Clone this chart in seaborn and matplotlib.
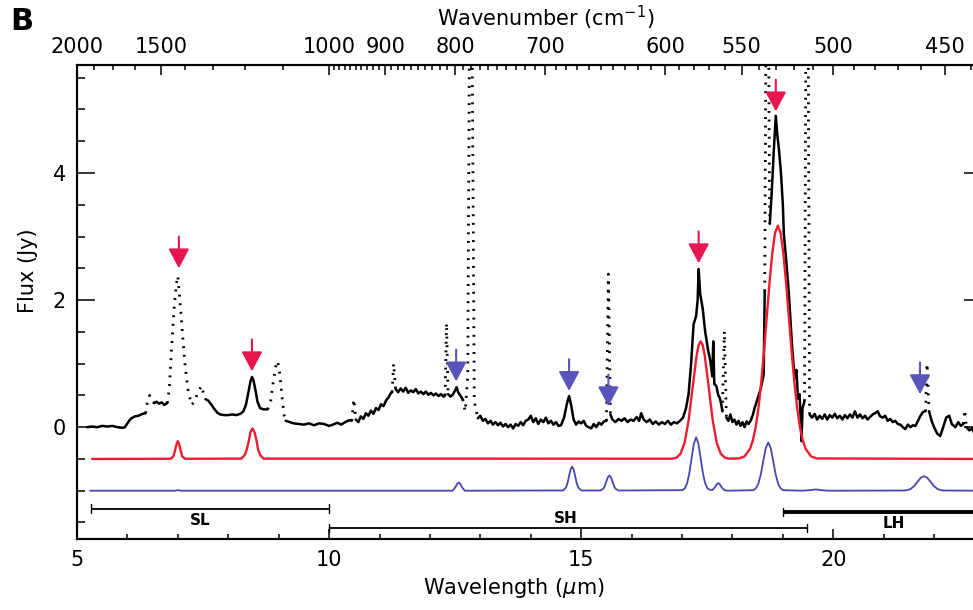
import numpy as np
import pandas as pd
import matplotlib
matplotlib.use("Agg")
import matplotlib.pyplot as plt
import seaborn as sns

nan = np.nan

# observed spectrum, solid parts (nan = gap where the data are masked)
spec_wave = [
    5.20, 5.30, 5.40, 5.50, 5.60, 5.70, 5.80, 5.90, 5.95, 6.00, 6.05, 6.10, 6.15, 6.22, 6.30, 6.36, nan,
    6.53, 6.58, 6.63, 6.68, 6.73, 6.79, nan,
    7.55, 7.60, 7.66, 7.72, 7.78, 7.84, 7.92, 8.00, 8.08, 8.16, 8.24, 8.30, 8.35, 8.40, 8.44, 8.47, 8.50,
    8.54, 8.58, 8.63, 8.70, 8.78, nan,
    9.14, 9.22, 9.30, 9.40, 9.50, 9.60, 9.70, 9.80, 9.90, 10.00, 10.08, 10.16, 10.24, 10.32, 10.40, 10.45, nan,
    10.53, 10.58, 10.63, 10.68, 10.73, 10.78, 10.83, 10.88, 10.93, 10.98, 11.03, 11.08, 11.13, 11.18, 11.22,
    11.25, nan,
    11.32, 11.37, 11.42, 11.47, 11.52, 11.57, 11.62, 11.67, 11.72, 11.77, 11.82, 11.87, 11.92, 11.97, 12.02,
    12.07, 12.12, 12.17, 12.22, 12.27, 12.30, nan,
    12.36, 12.41, 12.46, 12.50, 12.53, 12.56, 12.60, 12.65, nan,
    12.95, 13.00, 13.05, 13.10, 13.15, 13.20, 13.25, 13.30, 13.35, 13.40, 13.45, 13.50, 13.55, 13.60, 13.65,
    13.70, 13.75, 13.80, 13.85, 13.90, 13.95, 14.00, 14.05, 14.10, 14.15, 14.20, 14.25, 14.30, 14.35, 14.40,
    14.45, 14.50, 14.55, 14.60,
    14.66, 14.72, 14.76, 14.80, 14.85,
    14.90, 14.95, 15.00, 15.05, 15.10, 15.15, 15.20, 15.25, 15.30, 15.35, 15.40, 15.45, 15.50, nan,
    15.58, 15.62,
    15.68, 15.74, 15.80, 15.86, 15.92, 15.98, 16.04, 16.10,
    16.15, 16.19, 16.24,
    16.30, 16.36, 16.42, 16.48, 16.54, 16.60, 16.66, 16.72, 16.78, 16.84, 16.90, 16.96, 17.02,
    17.08, 17.13, 17.18, 17.23, 17.28, 17.31, 17.33, 17.36, 17.41, 17.46,
    17.52, 17.56, 17.60, 17.62, 17.64, 17.68, 17.72, 17.75, 17.78, 17.80, nan,
    17.88, 17.92, 17.96, 18.00, 18.04, 18.08, 18.12, 18.16, 18.20, 18.24, 18.28, 18.32, 18.36, 18.40, 18.44,
    18.50, 18.56, 18.62, 18.64, nan,
    18.74, 18.78, 18.82, 18.86, 18.89, 18.92, 18.96, 19.00, 19.02, 19.07, 19.12, 19.18, 19.21, 19.24, 19.27,
    19.30, 19.33, 19.35, 19.37, 19.39, 19.43, nan,
    19.53, 19.58, 19.63, 19.68, 19.73, 19.78, 19.83, 19.88, 19.93, 19.98,
    20.03, 20.08, 20.13, 20.18, 20.23, 20.28, 20.33, 20.38, 20.43, 20.48,
    20.53, 20.58, 20.63, 20.68, 20.73, 20.78, 20.83, 20.88, 20.93, 20.98,
    21.03, 21.08, 21.13, 21.18, 21.23, 21.28, 21.33, 21.38, 21.43, 21.48,
    21.53, 21.58, 21.63, 21.68, 21.73, 21.78, 21.83, nan,
    21.90, 21.95, 22.00, 22.06, 22.12, 22.18, 22.24, 22.30, 22.35, 22.42, 22.48, 22.53, 22.58, nan,
    22.64, 22.70, 22.75, 22.80, 22.85, 22.92,
]
spec_flux = [
    0.00, 0.01, 0.00, 0.02, 0.01, 0.02, 0.00, -0.01, 0.00, 0.06, 0.12, 0.15, 0.17, 0.18, 0.21, 0.22, nan,
    0.38, 0.40, 0.37, 0.39, 0.35, 0.38, nan,
    0.44, 0.42, 0.36, 0.29, 0.23, 0.20, 0.19, 0.19, 0.20, 0.19, 0.21, 0.25, 0.35, 0.55, 0.72, 0.79, 0.74,
    0.58, 0.40, 0.30, 0.28, 0.28, nan,
    0.10, 0.08, 0.06, 0.05, 0.04, 0.06, 0.03, 0.06, 0.05, 0.02, 0.04, 0.07, 0.04, 0.08, 0.11, 0.10, nan,
    0.12, 0.08, 0.17, 0.13, 0.22, 0.18, 0.26, 0.21, 0.30, 0.27, 0.36, 0.33, 0.42, 0.47, 0.53,
    0.55, nan,
    0.60, 0.55, 0.61, 0.56, 0.62, 0.54, 0.58, 0.55, 0.60, 0.53, 0.56, 0.52, 0.56, 0.51, 0.54,
    0.50, 0.53, 0.49, 0.52, 0.48, 0.50, nan,
    0.52, 0.48, 0.52, 0.58, 0.63, 0.55, 0.50, 0.44, nan,
    0.14, 0.18, 0.10, 0.13, 0.06, 0.10, 0.04, 0.08, 0.03, 0.07, 0.01, 0.05, 0.00, 0.04, -0.02,
    0.05, 0.02, 0.08, 0.03, 0.10, 0.12, 0.18, 0.08, 0.14, 0.05, 0.12, 0.08, 0.15, 0.06, 0.10,
    0.04, 0.08, 0.02, 0.03,
    0.15, 0.38, 0.49, 0.35, 0.12,
    0.04, 0.09, 0.06, 0.10, 0.02, 0.00, -0.02, 0.05, 0.00, 0.07, 0.04, 0.09, 0.10, nan,
    0.20, 0.12,
    0.08, 0.13, 0.10, 0.14, 0.08, 0.12, 0.10, 0.16,
    0.10, 0.22, 0.12,
    0.08, 0.12, 0.05, 0.09, 0.04, 0.08, 0.05, 0.10, 0.04, 0.08, 0.06, 0.10, 0.15,
    0.30, 0.52, 1.00, 1.62, 1.75, 2.00, 2.49, 2.10, 1.87, 1.50,
    1.20, 1.05, 0.80, 1.35, 0.68, 0.65, 0.50, 0.46, 0.35, 0.25, nan,
    0.15, 0.10, 0.20, 0.08, 0.12, 0.04, 0.10, 0.02, 0.08, 0.00, 0.09, 0.05, 0.10, 0.18, 0.30,
    0.45, 0.60, 0.83, 2.14, nan,
    3.20, 3.70, 4.35, 4.90, 4.60, 4.39, 4.03, 3.50, 3.04, 2.60, 2.09, 1.31, 1.00, 0.77, 0.90,
    0.45, 0.52, 0.20, -0.22, 0.30, 0.41, nan,
    0.20, 0.15, 0.21, 0.12, 0.18, 0.13, 0.20, 0.12, 0.19, 0.15,
    0.21, 0.14, 0.18, 0.12, 0.19, 0.14, 0.20, 0.15, 0.25, 0.15,
    0.20, 0.14, 0.18, 0.12, 0.16, 0.20, 0.22, 0.25, 0.17, 0.15,
    0.18, 0.10, 0.13, 0.08, 0.10, 0.05, 0.04, 0.00, -0.03, 0.04,
    0.00, 0.03, 0.02, 0.10, 0.18, 0.24, 0.25, nan,
    0.25, 0.10, 0.00, -0.10, -0.14, 0.00, 0.15, 0.18, 0.05, 0.00, 0.08, 0.02, 0.05, nan,
    0.00, -0.05, -0.02, -0.10, -0.05, -0.08,
]

# masked parts of the spectrum (drawn dotted), nan separates pieces
masked_wave = [
    6.36, 6.40, 6.44, 6.50, 6.53, nan,
    6.79, 6.83, 6.88, 6.93, 6.97, 7.00, 7.04, 7.09, 7.14, 7.20, 7.27, 7.33, 7.40, 7.47, 7.52, 7.55, nan,
    8.78, 8.84, 8.89, 8.94, 8.98, 9.02, 9.07, 9.11, 9.14, nan,
    10.45, 10.49, 10.53, nan,
    11.25, 11.28, 11.32, nan,
    12.30, 12.33, 12.36, nan,
    12.65, 12.70, 12.75, 12.79, 12.83, 12.88, 12.95, nan,
    15.50, 15.54, 15.58, nan,
    17.80, 17.84, 17.88, nan,
    18.64, 18.67, 18.71, 18.74, nan,
    19.43, 19.46, 19.50, 19.53, nan,
    21.83, 21.86, 21.90, nan,
    22.58, 22.61, 22.64,
]
masked_flux = [
    0.22, 0.42, 0.50, 0.40, 0.38, nan,
    0.38, 0.60, 1.30, 1.90, 2.25, 2.38, 2.00, 1.50, 1.00, 0.60, 0.35, 0.40, 0.55, 0.65, 0.50, 0.44, nan,
    0.28, 0.40, 0.70, 0.95, 1.04, 0.85, 0.45, 0.18, 0.10, nan,
    0.10, 0.44, 0.12, nan,
    0.55, 1.00, 0.60, nan,
    0.50, 1.64, 0.52, nan,
    0.44, 0.25, 0.80, 7.00, 7.00, 0.40, 0.14, nan,
    0.10, 2.41, 0.20, nan,
    0.25, 1.51, 0.15, nan,
    2.14, 7.00, 7.00, 3.20, nan,
    0.41, 7.00, 7.00, 0.20, nan,
    0.25, 1.00, 0.25, nan,
    0.05, 0.27, 0.00,
]

# C60 model (offset by -0.5 Jy)
c60_wave = [5.30, 6.86, 6.91, 6.93, 6.955, 6.98, 7.00, 7.02, 7.045, 7.07, 7.09, 7.14,
            8.26, 8.33, 8.37, 8.41, 8.44, 8.48, 8.52, 8.56, 8.59, 8.63, 8.70,
            16.81, 16.89, 16.97, 17.05, 17.13, 17.21, 17.29, 17.33, 17.37, 17.41, 17.45, 17.53, 17.61,
            17.69, 17.77, 17.85, 17.93,
            18.13, 18.24, 18.35, 18.405, 18.46, 18.515, 18.57, 18.625, 18.68, 18.735, 18.79, 18.845,
            18.90, 18.955, 19.01, 19.065, 19.12, 19.175, 19.23, 19.285, 19.34, 19.395, 19.45, 19.56,
            19.67, 23.0]
c60_flux = [-0.50, -0.497, -0.462, -0.409, -0.330, -0.253, -0.22, -0.253, -0.330, -0.409, -0.462, -0.497,
            -0.495, -0.435, -0.344, -0.209, -0.077, -0.02, -0.077, -0.209, -0.344, -0.435, -0.495,
            -0.496, -0.48, -0.419, -0.25, 0.101, 0.623, 1.132, 1.293, 1.35, 1.293, 1.132, 0.623, 0.101,
            -0.25, -0.419, -0.48, -0.496,
            -0.492, -0.46, -0.339, -0.208, -0.005, 0.293, 0.693, 1.181, 1.728, 2.271, 2.737, 3.056,
            3.17, 3.056, 2.737, 2.271, 1.728, 1.181, 0.693, 0.293, -0.005, -0.208, -0.339, -0.46,
            -0.492, -0.50]

# C70 model (offset by -1 Jy)
c70_wave = [5.26, 6.95, 7.00, 7.05,
            12.45, 12.50, 12.54, 12.57, 12.60, 12.64, 12.69,
            14.64, 14.70, 14.73, 14.76, 14.79, 14.82, 14.85, 14.88, 14.91, 14.94, 15.00,
            15.38, 15.44, 15.47, 15.50, 15.53, 15.56, 15.59, 15.62, 15.65, 15.68, 15.74,
            17.01, 17.055, 17.10, 17.145, 17.19, 17.235, 17.28, 17.325, 17.37, 17.415, 17.46, 17.505,
            17.55, 17.60, 17.65, 17.69, 17.72, 17.75, 17.79, 17.84, 17.90,
            18.41, 18.46, 18.51, 18.56, 18.61, 18.66, 18.71, 18.76, 18.81, 18.86, 18.91, 18.96, 19.01,
            19.40, 19.55, 19.65, 19.75, 19.90,
            21.41, 21.475, 21.54, 21.605, 21.67, 21.735, 21.80, 21.865, 21.93, 21.995, 22.06, 22.125,
            22.19, 23.0]
c70_flux = [-1.0, -1.0, -0.99, -1.0,
            -1.0, -0.95, -0.89, -0.87, -0.89, -0.95, -1.0,
            -0.996, -0.949, -0.876, -0.769, -0.665, -0.62, -0.665, -0.769, -0.876, -0.949, -0.996,
            -0.997, -0.968, -0.922, -0.854, -0.788, -0.76, -0.788, -0.854, -0.922, -0.968, -0.997,
            -0.991, -0.963, -0.887, -0.727, -0.49, -0.259, -0.16, -0.259, -0.49, -0.727, -0.887, -0.963,
            -0.985, -0.99, -0.95, -0.90, -0.88, -0.90, -0.95, -0.99, -1.0,
            -0.992, -0.967, -0.897, -0.753, -0.539, -0.33, -0.24, -0.33, -0.539, -0.753, -0.897, -0.967,
            -0.992,
            -1.0, -0.99, -0.98, -0.99, -1.0,
            -0.997, -0.99, -0.969, -0.925, -0.86, -0.797, -0.77, -0.797, -0.86, -0.925, -0.969, -0.99,
            -0.997, -1.0]

# band markers
c60_band_wave = [7.02, 8.47, 17.33, 18.86]
c60_band_tip = [2.50, 0.88, 2.58, 4.97]
c70_band_wave = [12.52, 14.76, 15.54, 21.72]
c70_band_tip = [0.72, 0.57, 0.33, 0.52]

# IRS modules
module_names = ["SL", "SH", "LH"]
module_start = [5.27, 10.0, 19.0]
module_end = [10.0, 19.47, 23.5]
module_level = [-1.28, -1.59, -1.34]

# top axis (wavenumber, cm-1)
wn_major = [2000, 1500, 1000, 900, 800, 700, 600, 550, 500, 450]
wn_minor = [1875, 1750, 1625, 1400, 1300, 1200, 1100] + [k for k in range(990, 439, -10) if k not in wn_major]

RED = "#ee1c2e"
PINK = "#e8164e"
BLUE = "#4646b4"
ARROW_BLUE = "#5a55bb"


def segments(wave, flux):
    w = np.asarray(wave, float)
    f = np.asarray(flux, float)
    seg = np.cumsum(np.isnan(w))
    keep = ~np.isnan(w)
    return pd.DataFrame({"wave": w[keep], "flux": f[keep], "seg": seg[keep]})


sns.set_theme(style="ticks")
plt.rcParams["font.family"] = ["DejaVu Sans"]
plt.rcParams["text.color"] = "black"

fig = plt.figure(figsize=(9.73, 6.10), dpi=100)
ax = fig.add_axes([77 / 973, 1 - 539 / 610, 905 / 973, 474 / 610])

sns.lineplot(data=segments(spec_wave, spec_flux), x="wave", y="flux", units="seg",
             estimator=None, sort=False, color="black", lw=1.8, ax=ax)
sns.lineplot(data=segments(masked_wave, masked_flux), x="wave", y="flux", units="seg",
             estimator=None, sort=False, color="black", lw=2.0, linestyle=(0, (0.7, 2.4)), ax=ax)
sns.lineplot(x=c60_wave, y=c60_flux, color=RED, lw=1.7, sort=False, ax=ax)
sns.lineplot(x=c70_wave, y=c70_flux, color=BLUE, lw=1.3, sort=False, ax=ax)

for xs, tips, col in [(c60_band_wave, c60_band_tip, PINK), (c70_band_wave, c70_band_tip, ARROW_BLUE)]:
    for x, t in zip(xs, tips):
        ax.annotate("", xy=(x, t), xytext=(x, t + 0.5),
                    arrowprops=dict(arrowstyle="-|>,head_length=0.6,head_width=0.32",
                                    mutation_scale=20, color=col, lw=1.5,
                                    shrinkA=0, shrinkB=0))

for name, a, b, lev in zip(module_names, module_start, module_end, module_level):
    lw = 2.8 if name == "LH" else 1.3
    ax.plot([a, b], [lev, lev], color="black", lw=lw, solid_capstyle="butt")
    ax.plot([a, a], [lev - 0.065, lev + 0.065], color="black", lw=1.0)
    ax.plot([b, b], [lev - 0.065, lev + 0.065], color="black", lw=1.0)
ax.text(7.45, -1.47, "SL", ha="center", va="center", fontsize=11, fontweight="bold")
ax.text(14.7, -1.43, "SH", ha="center", va="center", fontsize=11, fontweight="bold")
ax.text(21.2, -1.52, "LH", ha="center", va="center", fontsize=11, fontweight="bold")

ax.set_xlim(5, 22.95)
ax.set_ylim(-1.76, 5.70)
ax.set_xlabel("")
ax.set_ylabel("")
ax.set_xticks([5, 10, 15, 20])
ax.set_xticks(np.arange(6, 23, 1), minor=True)
ax.set_yticks([0, 2, 4])
ax.set_yticks(np.arange(-1.5, 5.6, 0.5), minor=True)
ax.tick_params(axis="both", which="both", direction="in", width=1.1, colors="black",
               labelsize=15, top=False, right=True)
ax.tick_params(axis="x", which="major", length=7, pad=8)
ax.tick_params(axis="x", which="minor", length=3.3)
ax.tick_params(axis="y", which="major", length=13, pad=8)
ax.tick_params(axis="y", which="minor", length=5.5)
for sp in ax.spines.values():
    sp.set_linewidth(1.5)
    sp.set_color("black")

top = ax.twiny()
top.set_xlim(ax.get_xlim())
top.set_xticks([1e4 / k for k in wn_major])
top.set_xticklabels([str(k) for k in wn_major])
top.set_xticks([1e4 / k for k in wn_minor], minor=True)
top.tick_params(axis="x", which="both", direction="in", width=1.1, labelsize=15, colors="black")
top.tick_params(axis="x", which="major", length=7, pad=6)
top.tick_params(axis="x", which="minor", length=3.3)
for sp in top.spines.values():
    sp.set_linewidth(1.5)
    sp.set_color("black")

fig.text(546 / 973, 1 - 18 / 610, "Wavenumber (cm$^{-1}$)", ha="center", va="center", fontsize=15)
fig.text(514 / 973, 1 - 588 / 610, "Wavelength ($\\mu$m)", ha="center", va="center", fontsize=15)
fig.text(28 / 973, 1 - 271 / 610, "Flux (Jy)", ha="center", va="center", rotation=90, fontsize=15)
fig.text(22 / 973, 1 - 22 / 610, "B", ha="center", va="center", fontsize=22, fontweight="bold")

fig.savefig("out.png", dpi=100)
